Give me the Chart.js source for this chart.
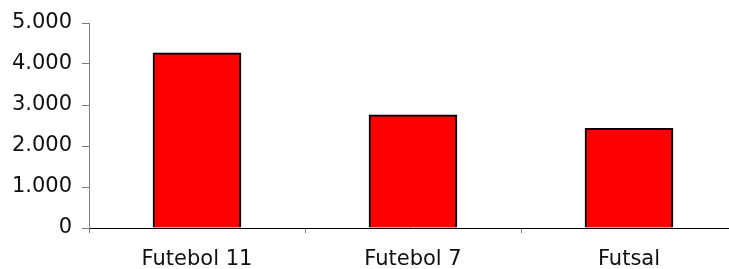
<!DOCTYPE html>
<html>
<head>
<meta charset="utf-8">
<script src="https://cdn.jsdelivr.net/npm/chart.js@4/dist/chart.umd.min.js"></script>
<style>
  html, body { margin: 0; padding: 0; background: #fff; overflow: hidden; }
  #wrap { width: 737px; height: 269px; position: relative; }
</style>
</head>
<body>
<div id="wrap"><canvas id="c" width="737" height="269"></canvas></div>
<script>
const categories = ['Futebol 11', 'Futebol 7', 'Futsal'];
const values = [4270, 2760, 2430];
const yTickLabels = ['0', '1.000', '2.000', '3.000', '4.000', '5.000'];

new Chart(document.getElementById('c'), {
  type: 'bar',
  data: {
    labels: categories,
    datasets: [{
      data: values,
      backgroundColor: '#ff0000',
      borderColor: '#000000',
      borderWidth: 2,
      barThickness: 88
    }]
  },
  options: {
    responsive: false,
    animation: false,
    devicePixelRatio: 1,
    layout: { padding: { top: 23, right: 0, bottom: 0, left: 0 } },
    plugins: { legend: { display: false }, tooltip: { enabled: false } },
    scales: {
      x: {
        grid: { display: true, drawOnChartArea: false, drawTicks: true, tickLength: 5, color: '#808080', offset: true },
        border: { display: true, color: '#000000', width: 1 },
        ticks: { color: '#111111', font: { family: 'DejaVu Sans', size: 21 }, padding: 14 },
        afterFit: s => { s.height = 41; }
      },
      y: {
        min: 0, max: 5000,
        grid: { display: true, drawOnChartArea: false, drawTicks: true, tickLength: 7, color: '#808080' },
        border: { display: true, color: '#808080', width: 1 },
        ticks: {
          stepSize: 1000,
          color: '#111111',
          font: { family: 'DejaVu Sans', size: 21 },
          padding: 10,
          callback: (v, i) => yTickLabels[i]
        },
        afterFit: s => { s.width = 89; }
      }
    }
  }
});
</script>
</body>
</html>
